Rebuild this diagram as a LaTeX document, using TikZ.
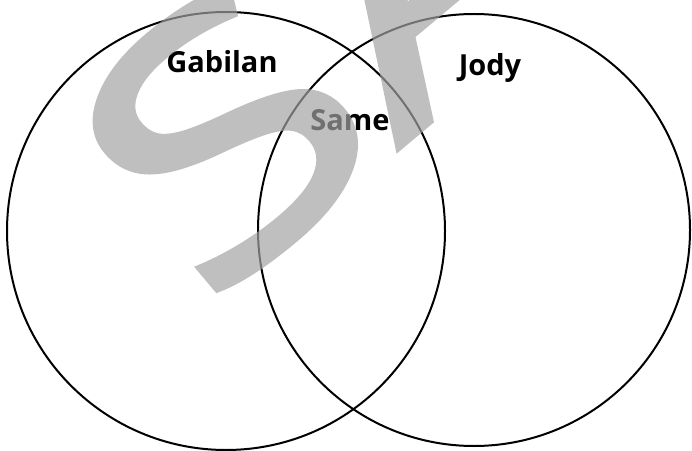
\documentclass[tikz,border=0pt]{standalone}
\usepackage{fontspec}
\setmainfont{Open Sans}
\newfontfamily\markfont[FakeBold=2]{Open Sans}
\usepackage{tikz}
\usetikzlibrary{positioning}
\colorlet{markgray}{black!36}
\tikzset{
  setring/.style={draw=black,line width=2pt,circle,inner sep=0pt},
  setlabel/.style={anchor=base,font=\fontsize{29}{29}\selectfont\bfseries}
}

\begin{document}
\begin{tikzpicture}[x=1pt,y=1pt]
    \useasboundingbox (0,0) rectangle (692,450);
    \node[setring,minimum size=438pt] (gabring) at (226,219) {};
    \node[setring,minimum size=432pt] (jodyring) at (474,220) {};
    \node[setlabel] (gabilan) at (222,377) {Gabilan};
    \node[setlabel] (jody) at (490,374) {Jody};
    \node[setlabel] (same) at (350,319.5) {Same};
    % watermark on top
    \begin{scope}[transparency group,opacity=.69]
      \clip (0,0) rectangle (692,450);
      \node[anchor=base west,rotate=40,inner sep=0pt,text=markgray,
        font=\markfont\fontsize{340}{340}\selectfont] (mark) at (205,140) {\scalebox{1.36}[1]{SAMPLE}};
    \end{scope}
  \end{tikzpicture}
\end{document}
